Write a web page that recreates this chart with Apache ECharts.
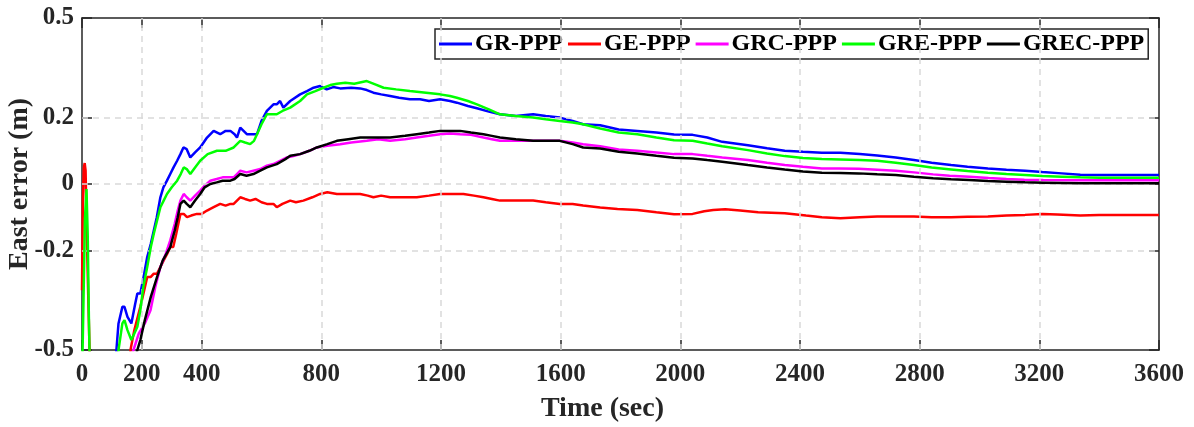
<!DOCTYPE html>
<html>
<head>
<meta charset="utf-8">
<script src="https://cdn.jsdelivr.net/npm/echarts@6/dist/echarts.min.js"></script>
<style>html,body{margin:0;padding:0;background:#fff}#c{width:1194px;height:427px}</style>
</head>
<body>
<div id="c"></div>
<script>
// ---- data: [time (sec), east error (m)] ----
const seriesNames = ['GR-PPP', 'GE-PPP', 'GRC-PPP', 'GRE-PPP', 'GREC-PPP'];
const seriesColors = ['#0000ff', '#ff0000', '#ff00ff', '#00ff00', '#000000'];
const xTickValues = [0, 200, 400, 800, 1200, 1600, 2000, 2400, 2800, 3200, 3600];
const yTickValues = [-0.5, -0.2, 0, 0.2, 0.5];
const xGridValues = [200, 400, 800, 1200, 1600, 2000, 2400, 2800, 3200];
const yGridValues = [-0.2, 0, 0.2];

const grData = [[105,-0.7],[115,-0.5],[122,-0.42],[135,-0.37],[142,-0.37],[152,-0.40],[165,-0.42],[178,-0.36],[185,-0.33],[195,-0.33],[208,-0.27],[218,-0.22],[230,-0.18],[240,-0.14],[250,-0.10],[262,-0.04],[272,-0.01],[284,0.01],[295,0.03],[306,0.05],[318,0.07],[329,0.09],[339,0.11],[350,0.105],[362,0.08],[378,0.095],[395,0.11],[418,0.14],[440,0.16],[462,0.15],[480,0.16],[496,0.16],[510,0.15],[518,0.14],[529,0.17],[540,0.16],[551,0.15],[570,0.15],[585,0.15],[600,0.19],[618,0.22],[640,0.24],[651,0.24],[662,0.25],[673,0.23],[696,0.25],[729,0.27],[752,0.28],[774,0.29],[796,0.295],[818,0.285],[840,0.292],[863,0.288],[900,0.29],[930,0.288],[952,0.283],[974,0.275],[1000,0.27],[1030,0.265],[1060,0.26],[1096,0.255],[1130,0.255],[1160,0.25],[1197,0.255],[1230,0.25],[1253,0.245],[1290,0.235],[1320,0.228],[1360,0.218],[1397,0.21],[1450,0.205],[1508,0.21],[1550,0.205],[1597,0.20],[1640,0.19],[1675,0.18],[1732,0.177],[1794,0.164],[1856,0.16],[1920,0.155],[1979,0.149],[2041,0.148],[2090,0.14],[2140,0.127],[2226,0.117],[2290,0.108],[2349,0.10],[2410,0.097],[2473,0.094],[2535,0.094],[2600,0.09],[2658,0.086],[2720,0.08],[2781,0.072],[2840,0.064],[2905,0.057],[2960,0.052],[3028,0.047],[3090,0.043],[3152,0.04],[3210,0.036],[3275,0.032],[3337,0.028],[3400,0.027],[3460,0.027],[3530,0.027],[3600,0.027]];

const geData = [[0,-0.32],[3,-0.05],[6,0.05],[9,0.063],[12,0.04],[16,-0.15],[22,-0.38],[28,-0.6],[35,-0.8],[150,-0.8],[162,-0.5],[175,-0.44],[195,-0.37],[208,-0.32],[218,-0.28],[230,-0.28],[240,-0.27],[251,-0.27],[262,-0.25],[273,-0.23],[285,-0.21],[295,-0.19],[305,-0.19],[315,-0.15],[329,-0.09],[340,-0.09],[351,-0.10],[365,-0.095],[384,-0.09],[400,-0.09],[418,-0.08],[440,-0.07],[462,-0.06],[480,-0.065],[496,-0.06],[507,-0.06],[518,-0.05],[529,-0.04],[545,-0.045],[562,-0.05],[580,-0.045],[600,-0.055],[618,-0.06],[640,-0.06],[651,-0.07],[670,-0.06],[696,-0.05],[715,-0.055],[740,-0.05],[770,-0.04],[796,-0.03],[820,-0.025],[852,-0.03],[890,-0.03],[930,-0.03],[955,-0.035],[974,-0.04],[1000,-0.035],[1030,-0.04],[1070,-0.04],[1119,-0.04],[1160,-0.035],[1197,-0.03],[1240,-0.03],[1275,-0.03],[1310,-0.035],[1342,-0.04],[1370,-0.045],[1397,-0.05],[1450,-0.05],[1508,-0.05],[1550,-0.055],[1597,-0.06],[1640,-0.06],[1675,-0.065],[1732,-0.071],[1790,-0.075],[1856,-0.078],[1920,-0.085],[1979,-0.091],[2041,-0.09],[2080,-0.082],[2110,-0.078],[2150,-0.076],[2200,-0.08],[2260,-0.085],[2349,-0.088],[2420,-0.095],[2473,-0.10],[2535,-0.103],[2600,-0.10],[2658,-0.098],[2720,-0.098],[2781,-0.098],[2840,-0.1],[2905,-0.10],[2960,-0.099],[3028,-0.098],[3090,-0.095],[3152,-0.093],[3210,-0.09],[3260,-0.092],[3337,-0.095],[3400,-0.093],[3460,-0.093],[3530,-0.093],[3600,-0.093]];

const grcData = [[120,-0.7],[172,-0.5],[190,-0.45],[210,-0.42],[229,-0.38],[245,-0.31],[262,-0.25],[280,-0.21],[295,-0.17],[310,-0.12],[320,-0.08],[329,-0.05],[340,-0.03],[350,-0.04],[362,-0.05],[378,-0.035],[395,-0.02],[410,-0.005],[429,0.01],[450,0.015],[470,0.02],[485,0.02],[507,0.02],[518,0.03],[529,0.04],[550,0.035],[573,0.04],[596,0.045],[618,0.055],[640,0.06],[662,0.07],[685,0.08],[710,0.085],[729,0.09],[760,0.10],[785,0.11],[820,0.115],[863,0.12],[900,0.125],[952,0.13],[990,0.135],[1030,0.13],[1080,0.135],[1119,0.14],[1160,0.145],[1197,0.15],[1230,0.152],[1264,0.15],[1300,0.148],[1342,0.14],[1370,0.135],[1397,0.13],[1450,0.13],[1508,0.13],[1550,0.13],[1597,0.13],[1640,0.125],[1675,0.12],[1732,0.114],[1794,0.104],[1856,0.10],[1920,0.095],[1979,0.09],[2041,0.09],[2090,0.085],[2140,0.08],[2226,0.072],[2290,0.064],[2349,0.057],[2410,0.052],[2473,0.047],[2530,0.047],[2596,0.046],[2658,0.043],[2720,0.04],[2781,0.035],[2845,0.029],[2900,0.025],[2966,0.022],[3030,0.018],[3090,0.015],[3150,0.013],[3213,0.012],[3337,0.011],[3450,0.011],[3600,0.011]];

const greData = [[0,-0.6],[5,-0.35],[10,-0.1],[15,-0.015],[19,-0.15],[23,-0.4],[27,-0.6],[110,-0.7],[122,-0.5],[135,-0.42],[142,-0.41],[152,-0.44],[165,-0.47],[175,-0.45],[185,-0.43],[195,-0.38],[205,-0.31],[218,-0.25],[230,-0.19],[240,-0.15],[251,-0.11],[262,-0.07],[273,-0.05],[284,-0.03],[300,-0.01],[318,0.01],[330,0.03],[340,0.05],[350,0.045],[362,0.03],[378,0.05],[395,0.07],[420,0.09],[451,0.10],[480,0.10],[507,0.11],[518,0.12],[529,0.13],[545,0.125],[562,0.12],[575,0.13],[585,0.15],[600,0.18],[618,0.21],[640,0.21],[651,0.21],[670,0.22],[696,0.23],[729,0.25],[752,0.27],[780,0.28],[807,0.29],[830,0.298],[852,0.302],[880,0.305],[910,0.302],[952,0.31],[980,0.30],[1008,0.29],[1050,0.285],[1096,0.28],[1150,0.275],[1197,0.27],[1230,0.265],[1253,0.26],[1290,0.25],[1320,0.24],[1360,0.225],[1397,0.21],[1450,0.205],[1508,0.20],[1550,0.195],[1597,0.19],[1640,0.185],[1675,0.18],[1732,0.167],[1794,0.155],[1856,0.15],[1920,0.14],[1979,0.132],[2041,0.13],[2090,0.122],[2140,0.114],[2226,0.102],[2290,0.092],[2349,0.084],[2410,0.078],[2473,0.075],[2535,0.074],[2600,0.072],[2658,0.07],[2720,0.064],[2781,0.057],[2840,0.05],[2905,0.044],[2960,0.039],[3028,0.034],[3090,0.03],[3152,0.027],[3210,0.024],[3275,0.022],[3337,0.02],[3400,0.019],[3500,0.019],[3600,0.019]];

const grecData = [[130,-0.7],[185,-0.5],[195,-0.47],[210,-0.41],[230,-0.34],[251,-0.28],[270,-0.23],[295,-0.19],[310,-0.14],[320,-0.10],[329,-0.06],[340,-0.05],[350,-0.06],[362,-0.07],[378,-0.05],[395,-0.03],[410,-0.01],[429,0.00],[450,0.005],[470,0.01],[496,0.01],[510,0.015],[529,0.03],[550,0.025],[573,0.03],[596,0.04],[618,0.05],[651,0.06],[680,0.075],[696,0.085],[729,0.09],[760,0.10],[785,0.11],[820,0.12],[852,0.13],[890,0.135],[930,0.14],[980,0.14],[1030,0.14],[1080,0.145],[1119,0.15],[1160,0.155],[1197,0.16],[1230,0.16],[1264,0.16],[1300,0.155],[1342,0.15],[1370,0.145],[1397,0.14],[1450,0.135],[1508,0.13],[1550,0.13],[1597,0.13],[1640,0.12],[1675,0.11],[1732,0.107],[1794,0.097],[1856,0.092],[1920,0.085],[1979,0.079],[2041,0.077],[2090,0.072],[2140,0.067],[2226,0.057],[2290,0.05],[2349,0.044],[2410,0.038],[2473,0.034],[2535,0.033],[2596,0.032],[2658,0.029],[2720,0.027],[2781,0.022],[2845,0.017],[2905,0.014],[2966,0.012],[3028,0.009],[3090,0.007],[3152,0.005],[3213,0.004],[3275,0.003],[3337,0.002],[3450,0.002],[3600,0.002]];

const seriesData = [grData, geData, grcData, greData, grecData];

// ---- chart ----
const FONT = 'Liberation Serif';
const AX = '#262626';
const chart = echarts.init(document.getElementById('c'), null, {renderer: 'canvas'});

const baseX = {
  type: 'value', min: 0, max: 3600, interval: 200,
  axisLine: {show: true, onZero: false, lineStyle: {color: AX, width: 1.5}},
  axisTick: {show: true, inside: true, length: 10, customValues: xTickValues, lineStyle: {color: AX, width: 1.5}},
  splitLine: {show: false}
};
const baseY = {
  type: 'value', min: -0.5, max: 0.5, interval: 0.1,
  axisLine: {show: true, onZero: false, lineStyle: {color: AX, width: 1.5}},
  axisTick: {show: true, inside: true, length: 10, customValues: yTickValues, lineStyle: {color: AX, width: 1.5}},
  splitLine: {show: false}
};

const gridMarks = xGridValues.map(v => ({xAxis: v})).concat(yGridValues.map(v => ({yAxis: v})));

const series = [{
  name: '_grid', type: 'line', data: [], z: 1, silent: true,
  markLine: {
    silent: true, symbol: ['none', 'none'], label: {show: false},
    lineStyle: {color: '#d9d9d9', width: 1.5, type: [6, 5]},
    emphasis: {disabled: true},
    animation: false,
    data: gridMarks
  }
}].concat(seriesNames.map((n, i) => ({
  name: n, type: 'line', data: seriesData[i], showSymbol: false, symbol: 'none',
  z: 2 + i, clip: true, animation: false,
  lineStyle: {color: seriesColors[i], width: 2.5},
  itemStyle: {color: seriesColors[i]}
})));

chart.setOption({
  animation: false,
  backgroundColor: '#fff',
  textStyle: {fontFamily: FONT},
  grid: {left: 82, right: 35, top: 18, bottom: 77, containLabel: false, outerBoundsMode: 'none'},
  legend: {
    data: seriesNames, left: 435, top: 29, orient: 'horizontal',
    icon: 'rect', itemWidth: 33, itemHeight: 3, itemGap: 5,
    padding: [3, 4, 3, 4],
    backgroundColor: '#fff', borderColor: AX, borderWidth: 1.5, borderRadius: 0,
    textStyle: {fontFamily: FONT, fontWeight: 'bold', fontSize: 24, color: '#000', padding: [0, 0, 0, -2]},
    selectedMode: false
  },
  xAxis: [
    Object.assign({}, baseX, {
      position: 'bottom',
      name: 'Time (sec)', nameLocation: 'middle', nameGap: 45,
      nameTextStyle: {fontFamily: FONT, fontWeight: 'bold', fontSize: 28, color: AX, padding: [0, 36, 0, 0]},
      axisLabel: {show: true, customValues: xTickValues, margin: 12, fontFamily: FONT, fontWeight: 'bold', fontSize: 25, color: AX,
        formatter: v => String(v)}
    }),
    Object.assign({}, baseX, {position: 'top', axisLabel: {show: false}})
  ],
  yAxis: [
    Object.assign({}, baseY, {
      position: 'left',
      name: 'East error (m)', nameLocation: 'middle', nameGap: 48, nameMoveOverlap: false,
      nameTextStyle: {fontFamily: FONT, fontWeight: 'bold', fontSize: 28, color: AX},
      axisLabel: {show: true, customValues: yTickValues, margin: 8, fontFamily: FONT, fontWeight: 'bold', fontSize: 25, color: AX,
        formatter: v => (Math.abs(v) < 1e-9 ? '0' : String(v))}
    }),
    Object.assign({}, baseY, {position: 'right', axisLabel: {show: false}})
  ],
  series: series
});
</script>
</body>
</html>
